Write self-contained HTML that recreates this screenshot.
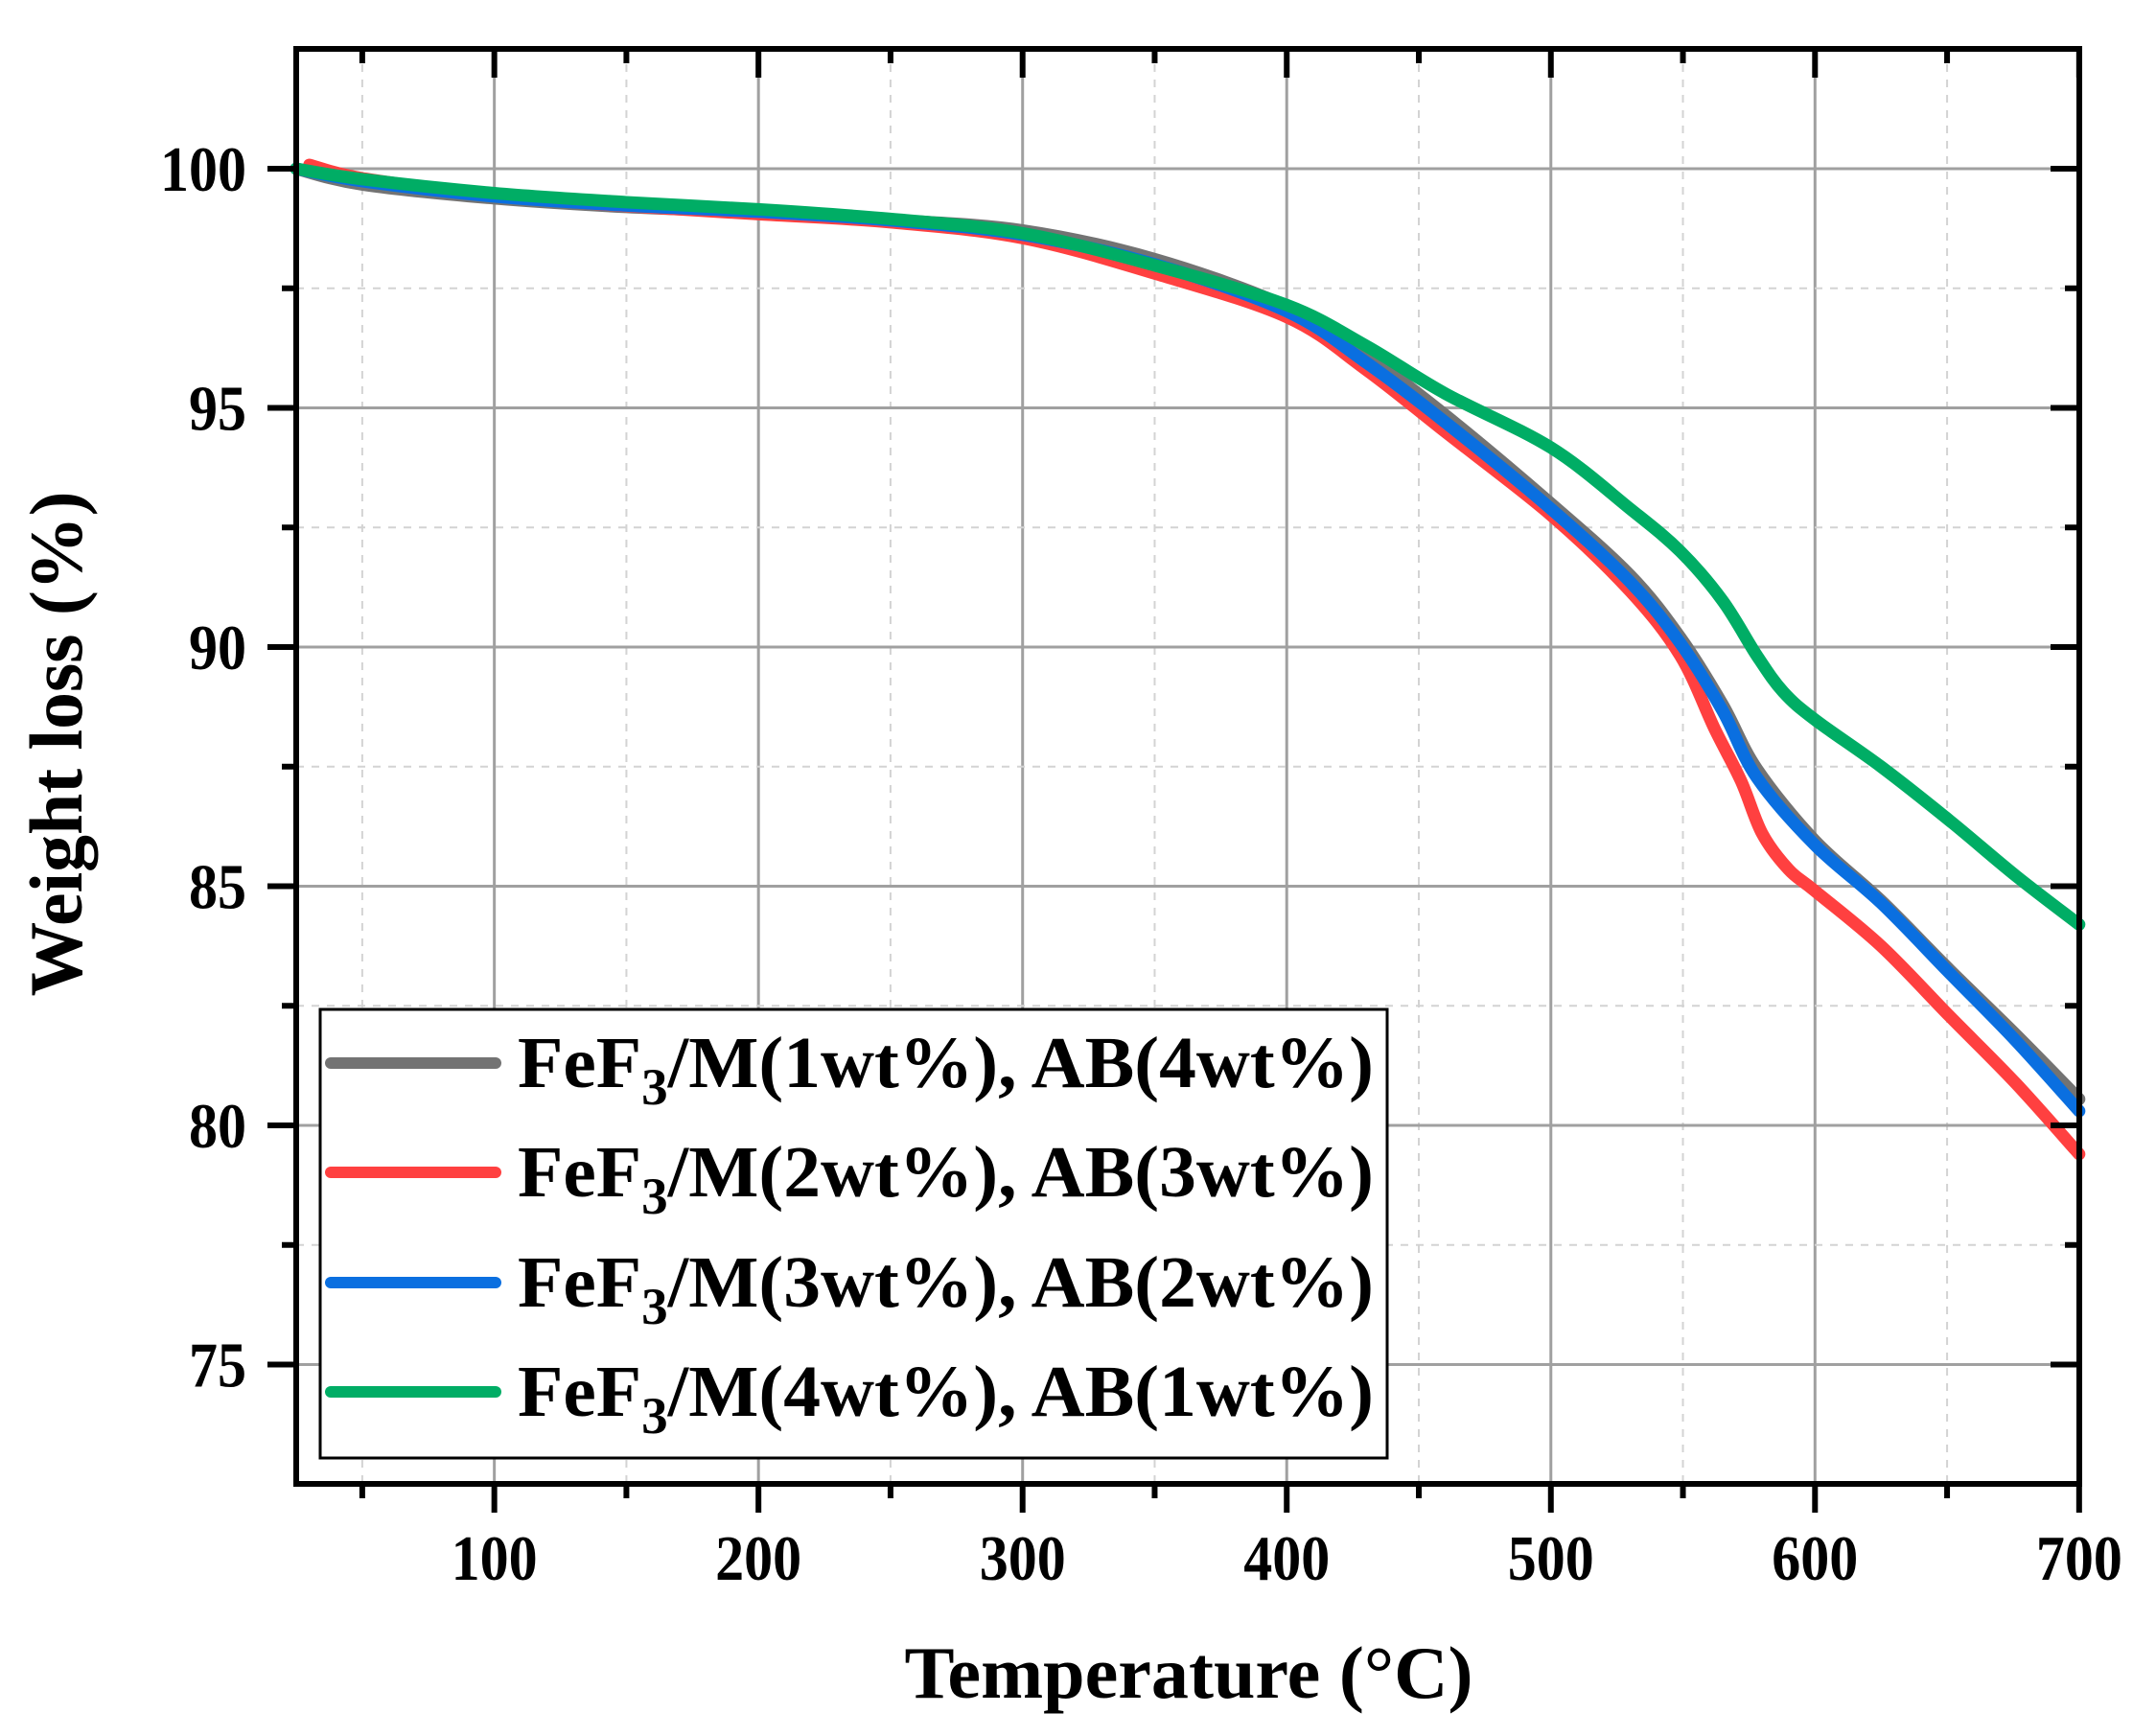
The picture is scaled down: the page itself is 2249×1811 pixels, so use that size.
<!DOCTYPE html>
<html><head><meta charset="utf-8"><style>html,body{margin:0;padding:0;background:#fff}svg{display:block}</style></head>
<body>
<svg id="s" width="2249" height="1811" viewBox="0 0 2249 1811" xmlns="http://www.w3.org/2000/svg" font-family="'Liberation Serif', serif" font-weight="bold">
<rect width="2249" height="1811" fill="#fff"/>
<g id="grid"></g>
<g id="curves" fill="none" stroke-width="13" stroke-linejoin="round" stroke-linecap="round"></g>
<g id="ticks" stroke="#000" stroke-width="6"></g>
<rect x="309" y="51" width="1860" height="1497" fill="none" stroke="#000" stroke-width="6"/>
<g id="labels" font-size="67" fill="#000"></g>
<text x="1240" y="1771" font-size="77" text-anchor="middle" textLength="593" lengthAdjust="spacingAndGlyphs">Temperature (°C)</text>
<text transform="translate(85,776) rotate(-90)" font-size="78" text-anchor="middle" textLength="527" lengthAdjust="spacingAndGlyphs">Weight loss (%)</text>
<rect x="334" y="1053" width="1113" height="468" fill="#fff" stroke="#000" stroke-width="3"/>
<g stroke-width="12" stroke-linecap="round">
<line x1="345" y1="1109" x2="517" y2="1109" stroke="#737373"/>
<line x1="345" y1="1223" x2="517" y2="1223" stroke="#ff4040"/>
<line x1="345" y1="1338" x2="517" y2="1338" stroke="#0a6fe0"/>
<line x1="345" y1="1452" x2="517" y2="1452" stroke="#00ad65"/>
</g>
<g font-size="76" fill="#000">
<text x="540" y="1134" textLength="893" lengthAdjust="spacingAndGlyphs">FeF<tspan font-size="54" dy="18">3</tspan><tspan dy="-18">/M(1wt%), AB(4wt%)</tspan></text>
<text x="540" y="1248" textLength="893" lengthAdjust="spacingAndGlyphs">FeF<tspan font-size="54" dy="18">3</tspan><tspan dy="-18">/M(2wt%), AB(3wt%)</tspan></text>
<text x="540" y="1363" textLength="893" lengthAdjust="spacingAndGlyphs">FeF<tspan font-size="54" dy="18">3</tspan><tspan dy="-18">/M(3wt%), AB(2wt%)</tspan></text>
<text x="540" y="1477" textLength="893" lengthAdjust="spacingAndGlyphs">FeF<tspan font-size="54" dy="18">3</tspan><tspan dy="-18">/M(4wt%), AB(1wt%)</tspan></text>
</g>
</svg>
<script>
const NS="http://www.w3.org/2000/svg";
const X=t=>309+(t-25)*2.7553, Y=w=>176+(100-w)*49.9;
function el(p,tag,a,txt){const e=document.createElementNS(NS,tag);for(const k in a)e.setAttribute(k,a[k]);if(txt!==undefined)e.textContent=txt;document.getElementById(p).appendChild(e);}
for(let t=50;t<=650;t+=50){const maj=t%100==0;el('grid','line',{x1:X(t),x2:X(t),y1:51,y2:1548,stroke:maj?'#a0a0a0':'#d3d3d3','stroke-width':maj?3:2,'stroke-dasharray':maj?'none':'8 8'});}
for(let w=75;w<=100;w+=2.5){const maj=w%5==0;el('grid','line',{x1:309,x2:2169,y1:Y(w),y2:Y(w),stroke:maj?'#a0a0a0':'#d3d3d3','stroke-width':maj?3:2,'stroke-dasharray':maj?'none':'8 8'});}
for(let t=50;t<=700;t+=50){const maj=t%100==0,L=maj?30:15,x=X(t);
el('ticks','line',{x1:x,x2:x,y1:1548,y2:1548+L});el('ticks','line',{x1:x,x2:x,y1:51,y2:51+L});
if(maj)el('labels','text',{x:x,y:1648,'text-anchor':'middle',textLength:90,lengthAdjust:'spacingAndGlyphs'},String(t));}
for(let w=75;w<=100;w+=2.5){const maj=w%5==0,L=maj?30:15,y=Y(w);
el('ticks','line',{x1:309-L,x2:309,y1:y,y2:y});el('ticks','line',{x1:2169-L,x2:2169,y1:y,y2:y});
if(maj){const s=String(w);el('labels','text',{x:257,y:y+23,'text-anchor':'end',textLength:s.length*30,lengthAdjust:'spacingAndGlyphs'},s);}}
const D={
gray:[[25,100],[50,99.67],[100,99.38],[150,99.2],[200,99.09],[250,98.93],[300,98.71],[350,98.11],[400,97.12],[430,96.1],[460,94.85],[500,93.0],[530,91.5],[549,90.2],[565,88.8],[578,87.45],[600,85.95],[625,84.7],[651,83.25],[676,81.9],[700,80.55]],
red:[[30,100.08],[50,99.8],[100,99.44],[150,99.22],[200,99.05],[250,98.88],[300,98.55],[350,97.81],[400,96.9],[430,95.8],[460,94.5],[500,92.76],[530,91.17],[549,89.82],[562,88.29],[572,87.2],[580,86.1],[590,85.35],[600,84.9],[625,83.75],[651,82.28],[676,80.88],[700,79.4]],
blue:[[25,100],[50,99.74],[100,99.42],[150,99.23],[200,99.1],[250,98.92],[300,98.62],[350,98.0],[400,97.02],[430,95.95],[460,94.7],[500,92.89],[530,91.36],[549,90.08],[565,88.67],[578,87.27],[600,85.86],[625,84.65],[651,83.18],[676,81.77],[700,80.3]],
green:[[25,100],[50,99.78],[100,99.49],[150,99.3],[200,99.15],[250,98.95],[300,98.65],[350,97.98],[400,97.15],[430,96.3],[460,95.3],[500,94.17],[530,92.89],[549,92.0],[565,90.97],[578,89.82],[588,89.06],[600,88.48],[625,87.5],[651,86.37],[676,85.22],[700,84.2]]};
const C={gray:'#737373',red:'#ff4040',blue:'#0a6fe0',green:'#00ad65'};
function path(p){p=p.map(q=>[X(q[0]),Y(q[1])]);let d='M'+p[0][0]+','+p[0][1];
for(let i=0;i<p.length-1;i++){const p0=p[i-1]||p[i],p1=p[i],p2=p[i+1],p3=p[i+2]||p2;
d+=' C'+(p1[0]+(p2[0]-p0[0])/6)+','+(p1[1]+(p2[1]-p0[1])/6)+' '+(p2[0]-(p3[0]-p1[0])/6)+','+(p2[1]-(p3[1]-p1[1])/6)+' '+p2[0]+','+p2[1];}return d;}
for(const k of ['gray','red','blue','green'])el('curves','path',{d:path(D[k]),stroke:C[k]});
</script>
</body></html>
